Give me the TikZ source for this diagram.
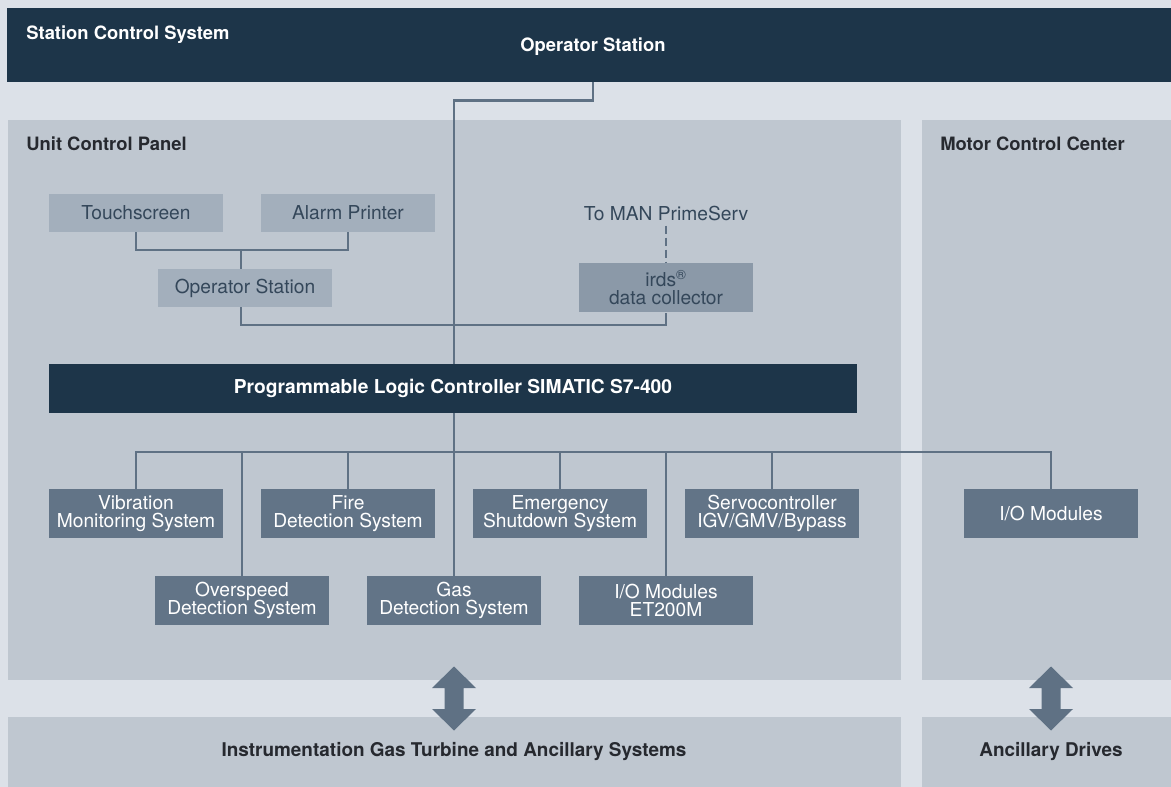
\documentclass[tikz,border=0pt]{standalone}
\usepackage{fontspec}
\setmainfont{TeX Gyre Heros}
\definecolor{bgc}{HTML}{DCE1E8}
\definecolor{panelc}{HTML}{BFC7D0}
\definecolor{darkc}{HTML}{1D3549}
\definecolor{lboxc}{HTML}{A3AFBC}
\definecolor{irdsc}{HTML}{8B99A8}
\definecolor{boxc}{HTML}{627487}
\definecolor{linec}{HTML}{5F7184}
\definecolor{textc}{HTML}{34475A}
\definecolor{headc}{HTML}{26292F}
\begin{document}
\begin{tikzpicture}[x=0.75pt,y=-0.75pt,line join=miter,
  conn/.style={draw=linec,line width=2.2pt},
  head/.style={text=headc,font=\fontsize{13.8}{16}\selectfont\bfseries,inner sep=0pt},
  lbox/.style={fill=lboxc,text=textc,minimum width=130.5pt,minimum height=28.5pt,inner sep=0pt,font=\fontsize{14.4}{16}\selectfont},
  box/.style={fill=boxc,text=white,minimum width=130.5pt,minimum height=36.75pt,inner sep=0pt,align=center,font=\fontsize{14.4}{13.9}\selectfont}]
  \tikzset{dblarrow/.pic={
      \def\hw{22}
      \def\sw{9.5}
      \def\hh{21.5}
      \def\h{32}
      \fill[linec](0,-\h)--(\hw,-\h+\hh)--(\sw,-\h+\hh)--(\sw,\h-\hh)--(\hw,\h-\hh)--(0,\h)
        --(-\hw,\h-\hh)--(-\sw,\h-\hh)--(-\sw,-\h+\hh)--(-\hw,-\h+\hh)--cycle;
  }}
  \useasboundingbox (0,0) rectangle (1171,787);
  \fill[bgc] (0,0) rectangle (1171,787);
  \fill[darkc] (7,8) rectangle (1171,82);
  \fill[panelc] (8,120) rectangle (901,680);
  \fill[panelc] (922,120) rectangle (1171,680);
  \fill[panelc] (8,717) rectangle (901,787);
  \fill[panelc] (922,717) rectangle (1171,787);

  \node[head,text=white,anchor=base west] (scs) at (26,40) {Station Control System};
  \node[head,text=white,anchor=base] (opst) at (593,52) {Operator Station};
  \node[head,anchor=base west] (ucp) at (26,151) {Unit Control Panel};
  \node[head,anchor=base west] (mcc) at (940,151) {Motor Control Center};
  \node[head,anchor=base,font=\fontsize{14.2}{16}\selectfont\bfseries] (inst) at (454,756) {Instrumentation Gas Turbine and Ancillary Systems};
  \node[head,anchor=base,font=\fontsize{14.2}{16}\selectfont\bfseries] (drv) at (1051,756) {Ancillary Drives};

  \node[lbox] (touch) at (136,213) {Touchscreen};
  \node[lbox] (alarm) at (348,213) {Alarm Printer};
  \node[lbox] (ops) at (245,288) {Operator Station};
  \node[text=textc,inner sep=0pt,anchor=base,font=\fontsize{14.4}{16}\selectfont] (man) at (666,221) {To MAN PrimeServ};
  \node[lbox,fill=irdsc,minimum height=36.75pt,align=center,font=\fontsize{14.4}{13.6}\selectfont] (irds) at (666,288) {irds\textsuperscript{®}\\data collector};

  \node[fill=darkc,text=white,minimum width=606pt,minimum height=36.75pt,inner sep=0pt,font=\fontsize{14.4}{16}\selectfont\bfseries] (plc) at (453,388.5) {Programmable Logic Controller SIMATIC S7-400};

  \node[box] (vib) at (136,513.5) {Vibration\\Monitoring System};
  \node[box] (fire) at (348,513.5) {Fire\\Detection System};
  \node[box] (emer) at (560,513.5) {Emergency\\Shutdown System};
  \node[box] (servo) at (772,513.5) {Servocontroller\\IGV/GMV/Bypass};
  \node[box] (iomc) at (1051,513.5) {I/O Modules};
  \node[box] (over) at (242,600.5) {Overspeed\\Detection System};
  \node[box] (gas) at (454,600.5) {Gas\\Detection System};
  \node[box] (iome) at (666,600.5) {I/O Modules\\ET200M};

  \coordinate (sc) at (593,82);
  \coordinate (j1) at (241,250);
  \coordinate (j2) at (666,325);
  \coordinate (bus) at (454,452);

  \draw[conn] (sc) -- ++(0,18.5) -| (gas.north |- plc.north);
  \draw[conn] (touch.south) |- (j1) -| (alarm.south);
  \draw[conn] (j1) -- (ops.north -| j1);
  \draw[conn] (ops.south -| j1) |- (j2) -- (irds.south);
  \draw[conn,dash pattern=on 6pt off 3pt] (man.south) ++(0,4) -- (irds.north);
  \draw[conn] (plc.south -| bus) -- (bus);
  \foreach \n in {vib,fire,emer,servo,iomc,over,gas,iome}
  \draw[conn] (\n.north) |- (bus);

  \path (454,698.5) pic{dblarrow};
  \path (1051,698.5) pic{dblarrow};
\end{tikzpicture}
\end{document}
